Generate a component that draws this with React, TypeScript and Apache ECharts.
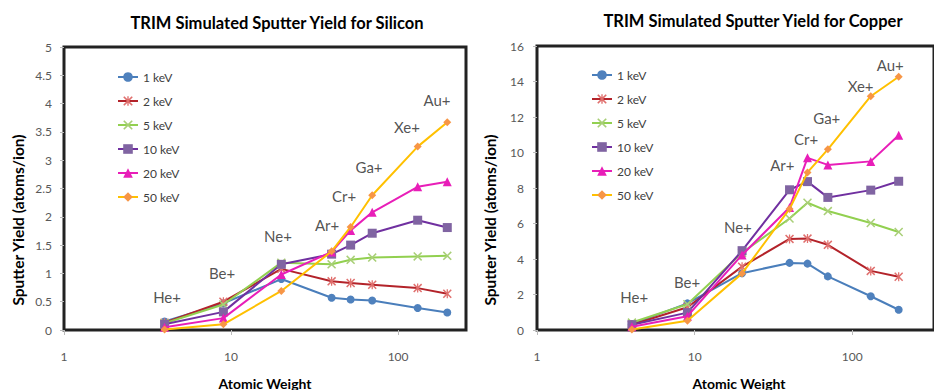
import React, { useEffect, useRef } from "react";
import * as echarts from "echarts";

// Ion species and their atomic weights
const ionNames = ["He+", "Be+", "Ne+", "Ar+", "Cr+", "Ga+", "Xe+", "Au+"];
const atomicWeights = [4, 9, 20, 40, 52, 70, 131, 197];

const energies = ["1 keV", "2 keV", "5 keV", "10 keV", "20 keV", "50 keV"];

// Silicon sputter yield (atoms/ion)
const si1keV = [0.15, 0.47, 0.9, 0.57, 0.54, 0.52, 0.39, 0.31];
const si2keV = [0.13, 0.5, 1.08, 0.86, 0.83, 0.8, 0.74, 0.64];
const si5keV = [0.12, 0.45, 1.19, 1.16, 1.24, 1.28, 1.3, 1.31];
const si10keV = [0.1, 0.32, 1.16, 1.34, 1.5, 1.71, 1.94, 1.81];
const si20keV = [0.05, 0.21, 0.98, 1.38, 1.76, 2.08, 2.53, 2.62];
const si50keV = [0.01, 0.1, 0.69, 1.39, 1.82, 2.38, 3.24, 3.67];

// Copper sputter yield (atoms/ion)
const cu1keV = [0.33, 1.5, 3.2, 3.78, 3.74, 3.02, 1.9, 1.14];
const cu2keV = [0.3, 1.28, 3.57, 5.13, 5.15, 4.8, 3.33, 3.0];
const cu5keV = [0.42, 1.45, 4.35, 6.28, 7.17, 6.7, 6.03, 5.52];
const cu10keV = [0.3, 0.98, 4.47, 7.9, 8.36, 7.47, 7.88, 8.38];
const cu20keV = [0.18, 0.78, 4.23, 6.9, 9.7, 9.3, 9.5, 10.97];
const cu50keV = [0.03, 0.52, 3.19, 6.82, 8.88, 10.18, 13.17, 14.27];

// Ion annotation anchor positions (data coordinates)
const siLabelX = [4.14, 8.83, 19.1, 37.6, 47.5, 67, 113, 171];
const siLabelY = [0.58, 1.0, 1.66, 1.86, 2.37, 2.88, 3.59, 4.06];
const cuLabelX = [4.14, 8.96, 18.8, 36, 50.9, 68.9, 113, 174];
const cuLabelY = [1.88, 2.69, 5.82, 9.3, 10.74, 11.93, 13.75, 14.93];

// Axis ranges
const siYMax = 5;
const siYInterval = 0.5;
const cuYMax = 16;
const cuYInterval = 2;
const siXMax = 255;
const cuXMax = 330;

const FONT = "Lato, 'Open Sans', sans-serif";

const xPath =
  "M0,1.2L1.2,0L5,3.8L8.8,0L10,1.2L6.2,5L10,8.8L8.8,10L5,6.2L1.2,10L0,8.8L3.8,5Z";
const starPath = xPath + "M4.3,0L5.7,0L5.7,10L4.3,10Z";

const styles = [
  { line: "#4A7EBB", marker: "#4F81BD", symbol: "circle", size: 8 },
  { line: "#B3232A", marker: "#E0706E", symbol: "path://" + starPath, size: 9 },
  { line: "#92D050", marker: "#A9CF78", symbol: "path://" + xPath, size: 9 },
  { line: "#7030A0", marker: "#8064A2", symbol: "rect", size: 9 },
  { line: "#E81EB8", marker: "#E81EB8", symbol: "triangle", size: 9 },
  { line: "#FFC000", marker: "#F79646", symbol: "diamond", size: 8 },
];

export default function App() {
  const ref = useRef<HTMLDivElement>(null);
  useEffect(() => {
    document.body.style.margin = "0";
    const chart = echarts.init(ref.current!, null, { renderer: "svg" });

    const siData = [si1keV, si2keV, si5keV, si10keV, si20keV, si50keV];
    const cuData = [cu1keV, cu2keV, cu5keV, cu10keV, cu20keV, cu50keV];

    const makeSeries = (data: number[][], idx: number) =>
      data.map((vals, i) => ({
        type: "line",
        name: energies[i],
        xAxisIndex: idx,
        yAxisIndex: idx,
        data: atomicWeights.map((w, j) => [w, vals[j]]),
        symbol: styles[i].symbol,
        symbolSize: styles[i].size,
        showAllSymbol: true,
        lineStyle: { color: styles[i].line, width: 2 },
        itemStyle: { color: styles[i].marker, borderColor: styles[i].marker, borderWidth: 0 },
        z: 2 + i,
      }));

    const makeLabels = (xs: number[], ys: number[], idx: number) => ({
      type: "scatter",
      xAxisIndex: idx,
      yAxisIndex: idx,
      silent: true,
      symbol: "circle",
      symbolSize: 1,
      itemStyle: { color: "transparent" },
      data: ionNames.map((n, i) => ({ name: n, value: [xs[i], ys[i]] })),
      label: {
        show: true,
        position: "inside",
        formatter: "{b}",
        fontSize: 15,
        color: "#262626",
        fontFamily: FONT,
      },
      z: 20,
    });

    const logFmt = (v: number) => {
      const l = Math.log10(v);
      return Math.abs(l - Math.round(l)) < 1e-6 ? String(Math.round(v)) : "";
    };

    const xAxisBase = (idx: number, max: number) => ({
      type: "log",
      logBase: 10,
      gridIndex: idx,
      min: 1,
      max,
      axisLine: { show: false },
      axisTick: { show: true, length: 5, lineStyle: { color: "#bbbbbb" } },
      axisLabel: {
        formatter: logFmt,
        color: "#595959",
        fontSize: 12,
        fontFamily: FONT,
        margin: 20,
        showMaxLabel: false,
      },
      splitLine: { show: false },
      minorTick: { show: false },
    });

    const yAxisBase = (idx: number, max: number, interval: number, margin: number) => ({
      type: "value",
      gridIndex: idx,
      min: 0,
      max,
      interval,
      axisLine: { show: false },
      axisTick: { show: true, length: 4, lineStyle: { color: "#bbbbbb" } },
      axisLabel: { color: "#595959", fontSize: 12, fontFamily: FONT, margin },
      splitLine: { show: false },
    });

    const legendBase = (left: number, top: number) => ({
      data: energies,
      orient: "vertical",
      left,
      top,
      itemWidth: 20,
      itemHeight: 12,
      itemGap: 12,
      itemStyle: { borderWidth: 0 },
      textStyle: { fontSize: 12, color: "#404040", fontFamily: FONT },
    });

    const titleFont = `bold 16.5px ${FONT}`;
    const yNameFont = `bold 15.5px ${FONT}`;
    const xNameFont = `bold 14px ${FONT}`;

    const option = {
      animation: false,
      backgroundColor: "#ffffff",
      grid: [
        { left: 64, top: 47, width: 402, height: 283, show: true, borderColor: "#222222", borderWidth: 3, backgroundColor: "transparent" },
        { left: 537, top: 46, width: 421, height: 284, show: true, borderColor: "#222222", borderWidth: 3, backgroundColor: "transparent" },
      ],
      xAxis: [xAxisBase(0, siXMax), xAxisBase(1, cuXMax)],
      yAxis: [
        yAxisBase(0, siYMax, siYInterval, 12),
        yAxisBase(1, cuYMax, cuYInterval, 13),
      ],
      legend: [legendBase(112, 66), legendBase(586, 64)],
      series: [
        ...makeSeries(siData, 0),
        ...makeSeries(cuData, 1),
        makeLabels(siLabelX, siLabelY, 0),
        makeLabels(cuLabelX, cuLabelY, 1),
      ],
      graphic: [
        { type: "text", x: 277, y: 23, style: { text: "TRIM Simulated Sputter Yield for Silicon", font: titleFont, fill: "#000", textAlign: "center", textVerticalAlign: "middle" } },
        { type: "text", x: 753, y: 21, style: { text: "TRIM Simulated Sputter Yield for Copper", font: titleFont, fill: "#000", textAlign: "center", textVerticalAlign: "middle" } },
        { type: "text", x: 18, y: 220, rotation: Math.PI / 2, style: { text: "Sputter Yield (atoms/ion)", font: yNameFont, fill: "#000", textAlign: "center", textVerticalAlign: "middle" } },
        { type: "text", x: 490, y: 220, rotation: Math.PI / 2, style: { text: "Sputter Yield (atoms/ion)", font: yNameFont, fill: "#000", textAlign: "center", textVerticalAlign: "middle" } },
        { type: "text", x: 265, y: 383, style: { text: "Atomic Weight", font: xNameFont, fill: "#000", textAlign: "center", textVerticalAlign: "middle" } },
        { type: "text", x: 739, y: 383, style: { text: "Atomic Weight", font: xNameFont, fill: "#000", textAlign: "center", textVerticalAlign: "middle" } },
      ],
    };

    chart.setOption(option as any);
    return () => chart.dispose();
  }, []);
  return <div ref={ref} style={{ width: 934, height: 390, background: "#fff" }} />;
}
